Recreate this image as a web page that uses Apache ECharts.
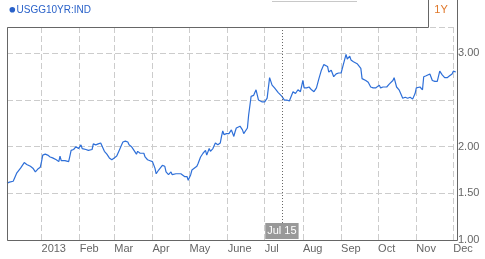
<!DOCTYPE html>
<html>
<head>
<meta charset="utf-8">
<script src="https://cdn.jsdelivr.net/npm/echarts@6/dist/echarts.min.js"></script>
<style>
html,body{margin:0;padding:0;background:#fff;}
#chart{width:485px;height:259px;}
</style>
</head>
<body>
<div id="chart"></div>
<script>
// ---- data ----
const seriesName = 'USGG10YR:IND';
const dates = [
'2012-12-04','2012-12-06','2012-12-09','2012-12-10','2012-12-12','2012-12-13','2012-12-15','2012-12-16','2012-12-18','2012-12-20',
'2012-12-21','2012-12-23','2012-12-25','2012-12-27','2012-12-29','2012-12-31','2013-01-01','2013-01-02','2013-01-04','2013-01-06',
'2013-01-08','2013-01-09','2013-01-10','2013-01-13','2013-01-15','2013-01-16','2013-01-17','2013-01-20','2013-01-23','2013-01-24',
'2013-01-25','2013-01-27','2013-01-29','2013-01-31','2013-02-02','2013-02-03','2013-02-04','2013-02-06','2013-02-08','2013-02-11',
'2013-02-12','2013-02-14','2013-02-16','2013-02-18','2013-02-19','2013-02-21','2013-02-23','2013-02-25','2013-02-27','2013-03-01',
'2013-03-03','2013-03-05','2013-03-07','2013-03-08','2013-03-10','2013-03-12','2013-03-13','2013-03-15','2013-03-17','2013-03-19',
'2013-03-20','2013-03-22','2013-03-25','2013-03-26','2013-03-28','2013-03-30','2013-04-01','2013-04-03','2013-04-04','2013-04-06',
'2013-04-07','2013-04-09','2013-04-11','2013-04-12','2013-04-14','2013-04-16','2013-04-17','2013-04-20','2013-04-21','2013-04-24',
'2013-04-25','2013-04-27','2013-04-29','2013-04-30','2013-05-02','2013-05-03','2013-05-04','2013-05-07','2013-05-08','2013-05-10',
'2013-05-12','2013-05-14','2013-05-15','2013-05-17','2013-05-18','2013-05-20','2013-05-22','2013-05-24','2013-05-26','2013-05-27',
'2013-05-28','2013-05-29','2013-05-31','2013-06-02','2013-06-04','2013-06-06','2013-06-07','2013-06-08','2013-06-11','2013-06-13',
'2013-06-14','2013-06-17','2013-06-18','2013-06-20','2013-06-22','2013-06-24','2013-06-25','2013-06-26','2013-06-29','2013-07-01',
'2013-07-03','2013-07-05','2013-07-07','2013-07-09','2013-07-12','2013-07-15','2013-07-17','2013-07-19','2013-07-21','2013-07-24',
'2013-07-26','2013-07-28','2013-07-30','2013-08-01','2013-08-02','2013-08-04','2013-08-06','2013-08-08','2013-08-10','2013-08-12',
'2013-08-14','2013-08-16','2013-08-18','2013-08-19','2013-08-21','2013-08-22','2013-08-24','2013-08-26','2013-08-28','2013-08-30',
'2013-09-01','2013-09-03','2013-09-05','2013-09-06','2013-09-08','2013-09-09','2013-09-11','2013-09-14','2013-09-15','2013-09-17',
'2013-09-18','2013-09-19','2013-09-21','2013-09-23','2013-09-25','2013-09-27','2013-09-29','2013-09-30','2013-10-02','2013-10-03',
'2013-10-05','2013-10-08','2013-10-10','2013-10-13','2013-10-14','2013-10-16','2013-10-18','2013-10-19','2013-10-21','2013-10-23',
'2013-10-25','2013-10-27','2013-10-29','2013-10-31','2013-11-01','2013-11-02','2013-11-04','2013-11-06','2013-11-07','2013-11-09',
'2013-11-10','2013-11-12','2013-11-14','2013-11-16','2013-11-18','2013-11-20','2013-11-22','2013-11-24','2013-11-26','2013-11-28',
'2013-11-30','2013-12-01','2013-12-03'
];
const values = [
1.61,1.62,1.63,1.66,1.72,1.74,1.77,1.79,1.83,1.81,
1.79,1.79,1.77,1.73,1.76,1.78,1.84,1.91,1.92,1.91,
1.89,1.90,1.88,1.86,1.84,1.90,1.85,1.85,1.84,1.90,
1.96,1.97,2.00,1.98,2.02,1.98,1.99,1.97,1.96,1.97,
2.03,2.02,2.03,2.04,2.01,1.95,1.92,1.88,1.86,1.88,
1.90,1.96,2.02,2.05,2.06,2.05,2.02,2.00,1.96,1.92,
1.95,1.93,1.93,1.89,1.86,1.85,1.84,1.77,1.71,1.75,
1.77,1.80,1.79,1.73,1.70,1.73,1.70,1.71,1.72,1.71,
1.71,1.68,1.68,1.64,1.70,1.75,1.76,1.79,1.82,1.89,
1.93,1.96,1.91,1.98,1.95,1.98,2.04,2.02,2.04,2.11,
2.17,2.13,2.14,2.14,2.18,2.11,2.16,2.20,2.22,2.18,
2.14,2.20,2.34,2.54,2.55,2.61,2.59,2.50,2.48,2.48,
2.52,2.74,2.66,2.63,2.58,2.54,2.50,2.50,2.49,2.59,
2.57,2.61,2.59,2.71,2.63,2.63,2.64,2.61,2.59,2.63,
2.73,2.82,2.88,2.89,2.86,2.80,2.82,2.75,2.78,2.79,
2.79,2.89,2.99,2.94,2.97,2.93,2.91,2.89,2.87,2.84,
2.73,2.75,2.71,2.69,2.64,2.63,2.63,2.61,2.66,2.63,
2.64,2.64,2.67,2.71,2.74,2.64,2.61,2.59,2.52,2.53,
2.52,2.53,2.51,2.57,2.63,2.61,2.64,2.61,2.75,2.76,
2.74,2.78,2.71,2.70,2.70,2.81,2.77,2.74,2.74,2.76,
2.78,2.81,2.80
];
const monthLabels = ['2013','Feb','Mar','Apr','May','June','Jul','Aug','Sep','Oct','Nov','Dec'];
const yTicks = [1.0, 1.5, 2.0, 2.5, 3.0];
const yTickLabels = ['1.00', '1.50', '2.00', '', '3.00'];
const xStart = '2012-12-04';
const xEnd = '2013-12-04';
const yMin = 1.0;
const yMax = 3.283;
const crosshairDate = '2013-07-15';
const crosshairLabel = 'Jul 15';
const crosshairBottom = 1.182;
const rangeLabel = '1Y';

// ---- build ----
function ts(s){ const p = s.split('-').map(Number); return Date.UTC(p[0], p[1]-1, p[2]); }
const FONT = '"Liberation Sans", Arial, sans-serif';
const chart = echarts.init(document.getElementById('chart'), null, {renderer:'canvas'});
const seriesData = dates.map((d,i) => [ts(d), values[i]]);

chart.setOption({
  animation: false,
  useUTC: true,
  backgroundColor: '#fff',
  title: {
    text: seriesName, left: 16.5, top: 5, padding: 0,
    textStyle: {fontSize: 10, fontWeight: 'normal', color: '#2a62c9', fontFamily: FONT}
  },
  grid: {left: 7, right: 28, top: 27, bottom: 19, containLabel: false},
  xAxis: {
    type: 'time',
    min: ts(xStart), max: ts(xEnd),
    splitNumber: 12,
    minInterval: 28*86400000,
    maxInterval: 31*86400000,
    axisLine: {show: false},
    axisTick: {show: false},
    splitLine: {show: true, lineStyle: {color: '#cccccc', width: 1, type: [6,3]}},
    axisLabel: {
      show: true, align: 'left', margin: 3, color: '#666', fontSize: 11, fontFamily: FONT,
      showMinLabel: false, showMaxLabel: false, hideOverlap: false,
      formatter: function(v){
        const d = new Date(v);
        if (d.getUTCDate() !== 1 || d.getUTCHours() !== 0) return '';
        return monthLabels[d.getUTCMonth()];
      }
    }
  },
  yAxis: {
    type: 'value', position: 'right',
    min: yMin, max: yMax, interval: 0.5,
    axisLine: {show: false},
    axisTick: {show: false},
    splitLine: {show: true, lineStyle: {color: '#cccccc', width: 1, type: [6,3]}},
    axisLabel: {
      show: true, margin: 1, color: '#666', fontSize: 11, fontFamily: FONT, padding: [4,0,0,0],
      showMaxLabel: false,
      formatter: function(v){
        for (let i = 0; i < yTicks.length; i++) {
          if (Math.abs(yTicks[i] - v) < 1e-6) return yTickLabels[i];
        }
        return '';
      }
    }
  },
  series: [{
    name: seriesName,
    type: 'line',
    data: seriesData,
    showSymbol: false,
    symbol: 'none',
    lineStyle: {color: '#2e6fd8', width: 1.2},
    z: 3,
    markLine: {
      silent: true, symbol: ['none','none'], animation: false,
      lineStyle: {color: '#666', type: [1,2], width: 1},
      label: {
        show: true, position: 'start', distance: 0,
        formatter: crosshairLabel,
        backgroundColor: '#999', color: '#fff', fontSize: 11, fontFamily: FONT,
        padding: [2,2,2,2], lineHeight: 12
      },
      data: [[{coord: [ts(crosshairDate), crosshairBottom]}, {coord: [ts(crosshairDate), yMax]}]]
    }
  }],
  graphic: [
    {type: 'polyline', silent: true, z: 10,
     shape: {points: [[428.5,0],[428.5,27.5],[7.5,27.5],[7.5,240.5],[457.5,240.5],[457.5,0]]},
     style: {stroke: '#666', lineWidth: 1, fill: null}},
    {type: 'line', silent: true, shape: {x1: 272, y1: 1.5, x2: 357, y2: 1.5},
     style: {stroke: '#c8c8c8', lineWidth: 1}},
    {type: 'circle', silent: true, shape: {cx: 12.3, cy: 9.8, r: 2.8}, style: {fill: '#2a62c9'}},
    {type: 'text', silent: true, x: 441, y: 10,
     style: {text: rangeLabel, fill: '#e0782a', fontSize: 11, fontFamily: FONT, align: 'center', verticalAlign: 'middle'}}
  ]
});
</script>
</body>
</html>
